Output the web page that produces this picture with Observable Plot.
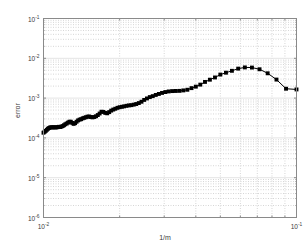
<!DOCTYPE html>
<html><head><meta charset="utf-8">
<script src="https://cdn.jsdelivr.net/npm/d3@7"></script>
<script src="https://cdn.jsdelivr.net/npm/@observablehq/plot@0.6"></script>
<style>body{margin:0;background:#fff}svg{display:block}</style>
</head><body><div id="chart"></div>
<script>
const m = [100,99,98,97,96,95,94,93,92,91,90,89,88,87,86,85,84,83,82,81,80,79,78,77,76,75,74,73,72,71,70,69,68,67,66,65,64,63,62,61,60,59,58,57,56,55,54,53,52,51,50,49,48,47,46,45,44,43,42,41,40,39,38,37,36,35,34,33,32,31,30,29,28,27,26,25,24,23,22,21,20,19,18,17,16,15,14,13,12,11,10];
const err = [1.35e-4,1.42e-4,1.5e-4,1.6e-4,1.7e-4,1.78e-4,1.84e-4,1.85e-4,1.82e-4,1.86e-4,
  1.84e-4,1.83e-4,1.86e-4,1.9e-4,1.88e-4,1.92e-4,1.98e-4,2.08e-4,2.2e-4,2.3e-4,
  2.42e-4,2.55e-4,2.55e-4,2.38e-4,2.25e-4,2.35e-4,2.55e-4,2.75e-4,2.88e-4,2.95e-4,
  3.1e-4,3.2e-4,3.3e-4,3.42e-4,3.45e-4,3.35e-4,3.28e-4,3.35e-4,3.5e-4,3.75e-4,
  4.1e-4,4.55e-4,4.5e-4,4.25e-4,4.15e-4,4.45e-4,4.85e-4,5.15e-4,5.4e-4,5.7e-4,
  5.9e-4,6.05e-4,6.2e-4,6.4e-4,6.55e-4,6.65e-4,6.85e-4,7.1e-4,7.5e-4,8.1e-4,
  9.0e-4,9.8e-4,1.06e-3,1.12e-3,1.2e-3,1.27e-3,1.35e-3,1.42e-3,1.47e-3,1.5e-3,
  1.51e-3,1.52e-3,1.56e-3,1.62e-3,1.78e-3,1.94e-3,2.18e-3,2.55e-3,2.9e-3,3.3e-3,
  3.9e-3,4.35e-3,4.85e-3,5.5e-3,5.9e-3,5.85e-3,5.3e-3,4.2e-3,2.92e-3,1.72e-3,1.65e-3];
const xMajor = [0.01, 0.1];
const xMajorLabels = ["10⁻²", "10⁻¹"];
const xMinor = [0.02,0.03,0.04,0.05,0.06,0.07,0.08,0.09];
const yMajor = [1e-6,1e-5,1e-4,1e-3,1e-2,1e-1];
const yMajorLabels = ["10⁻⁶","10⁻⁵","10⁻⁴","10⁻³","10⁻²","10⁻¹"];
const yMinor = [2e-6,3e-6,4e-6,5e-6,6e-6,7e-6,8e-6,9e-6,
  2e-5,3e-5,4e-5,5e-5,6e-5,7e-5,8e-5,9e-5,
  2e-4,3e-4,4e-4,5e-4,6e-4,7e-4,8e-4,9e-4,
  2e-3,3e-3,4e-3,5e-3,6e-3,7e-3,8e-3,9e-3,
  2e-2,3e-2,4e-2,5e-2,6e-2,7e-2,8e-2,9e-2];
const xLabel = "1/m";
const yLabel = "error";

const data = m.map((v, i) => ({x: 1 / v, y: err[i]}));
const xLab = new Map(xMajor.map((d, i) => [d, xMajorLabels[i]]));
const yLab = new Map(yMajor.map((d, i) => [d, yMajorLabels[i]]));
const axisColor = "#8a8a8a";
const textColor = "#3a3a3a";
const blank = () => "";

const chart = Plot.plot({
  width: 305, height: 245,
  marginLeft: 43, marginRight: 9, marginTop: 18, marginBottom: 28,
  style: {fontFamily: "'Liberation Sans', Arial, sans-serif", fontSize: "6.5px", color: textColor, background: "#fff"},
  x: {type: "log", domain: [0.01, 0.1]},
  y: {type: "log", domain: [1e-6, 1e-1]},
  marks: [
    Plot.ruleX(xMinor, {stroke: "#d6d6d6", strokeDasharray: "1,1.5"}),
    Plot.ruleY(yMinor, {stroke: "#d6d6d6", strokeDasharray: "1,1.5"}),
    Plot.ruleY(yMajor, {stroke: "#e4e4e4"}),
    Plot.line(data, {x: "x", y: "y", stroke: "black", strokeWidth: 1}),
    Plot.dot(data, {x: "x", y: "y", symbol: "square", r: 2.2, fill: "black", stroke: "none"}),
    Plot.frame({stroke: axisColor}),
    Plot.axisX(xMajor, {anchor: "bottom", tickSize: 0, tickPadding: 7, tickFormat: d => xLab.get(d), label: null, fill: textColor}),
    Plot.axisY(yMajor, {anchor: "left", tickSize: 0, tickPadding: 4, tickFormat: d => yLab.get(d), label: null, fill: textColor, dy: 1}),
    Plot.axisX(xMinor, {anchor: "bottom", tickSize: -1.5, tickFormat: blank, label: null, stroke: axisColor}),
    Plot.axisX(xMinor, {anchor: "top", tickSize: -1.5, tickFormat: blank, label: null, stroke: axisColor}),
    Plot.axisY(yMajor, {anchor: "left", tickSize: -3, tickFormat: blank, label: null, stroke: axisColor}),
    Plot.axisY(yMajor, {anchor: "right", tickSize: -3, tickFormat: blank, label: null, stroke: axisColor}),
    Plot.axisY(yMinor, {anchor: "left", tickSize: -1.5, tickFormat: blank, label: null, stroke: axisColor}),
    Plot.axisY(yMinor, {anchor: "right", tickSize: -1.5, tickFormat: blank, label: null, stroke: axisColor}),
    Plot.text([xLabel], {frameAnchor: "bottom", dy: 22, dx: -5, fontSize: 7, fill: textColor}),
    Plot.text([yLabel], {frameAnchor: "left", dx: -26, rotate: -90, fontSize: 7, fill: textColor})
  ]
});

// render the exponent of each tick label as a real superscript
const ns = "http://www.w3.org/2000/svg";
const supMap = {"⁻":"-","⁰":"0","¹":"1","²":"2","³":"3","⁴":"4","⁵":"5","⁶":"6","⁷":"7","⁸":"8","⁹":"9"};
chart.querySelectorAll('g[aria-label$="tick label"] text').forEach(t => {
  const s = t.textContent;
  if (!s) return;
  const base = s.slice(0, 2);
  const exp = [...s.slice(2)].map(c => supMap[c] ?? c).join("");
  t.textContent = "";
  const a = document.createElementNS(ns, "tspan");
  a.textContent = base;
  const b = document.createElementNS(ns, "tspan");
  b.textContent = exp;
  b.setAttribute("dy", "-3");
  b.setAttribute("font-size", "4.8");
  t.append(a, b);
});
document.getElementById("chart").append(chart);
</script>
</body></html>
